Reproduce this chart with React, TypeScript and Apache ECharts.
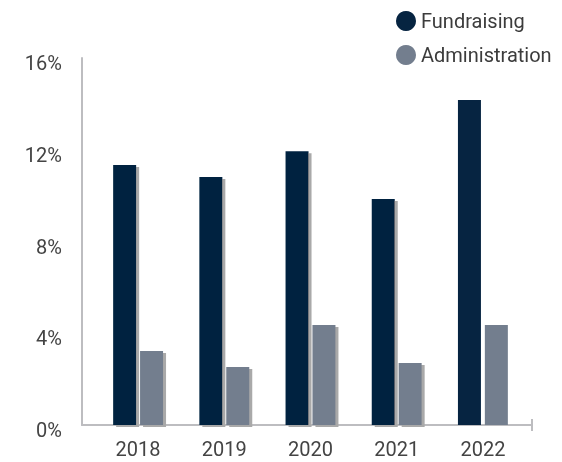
import React, { useEffect, useRef } from "react";
import * as echarts from "echarts";

const years = ["2018", "2019", "2020", "2021", "2022"];
const fundraising = [11.33, 10.81, 11.94, 9.85, 14.17];
const administration = [3.23, 2.53, 4.36, 2.7, 4.36];
const yTicks = [0, 4, 8, 12, 16];

const FONT = "Roboto, 'Noto Sans', sans-serif";

export default function App() {
  const ref = useRef<HTMLDivElement>(null);
  useEffect(() => {
    if (!ref.current) return;
    const chart = echarts.init(ref.current, undefined, { renderer: "svg" });
    const shadow = {
      shadowColor: "#a9a9a9",
      shadowOffsetX: 3,
      shadowOffsetY: 2,
      shadowBlur: 0,
    };
    const last = years.length - 1;
    chart.setOption({
      animation: false,
      legend: {
        orient: "vertical",
        left: 391,
        top: 6,
        itemGap: 14,
        icon: "circle",
        itemWidth: 20,
        itemHeight: 20,
        textStyle: { fontFamily: FONT, fontSize: 20, color: "#3c3c3c" },
        data: ["Fundraising", "Administration"],
      },
      grid: [
        { left: 82, right: 30, top: 58, bottom: 37 },
        { left: 95, width: 431, top: 58, bottom: 37 },
      ],
      xAxis: [
        {
          gridIndex: 0,
          type: "category",
          data: [""],
          axisLine: { show: true, lineStyle: { color: "#bdbdc0", width: 2 } },
          axisTick: { show: false },
          axisLabel: { show: false },
        },
        {
          gridIndex: 1,
          type: "category",
          data: years,
          axisLine: { show: false },
          axisTick: { show: false },
          axisLabel: { fontFamily: FONT, fontSize: 20, color: "#444", margin: 14, lineHeight: 20 },
        },
      ],
      yAxis: [
        {
          gridIndex: 0,
          type: "value",
          min: yTicks[0],
          max: yTicks[yTicks.length - 1],
          interval: 4,
          axisLine: { show: true, lineStyle: { color: "#bdbdc0", width: 2 } },
          axisTick: { show: false },
          splitLine: { show: false },
          axisLabel: {
            fontFamily: FONT,
            fontSize: 20,
            color: "#444",
            margin: 20,
            verticalAlign: "top",
            lineHeight: 10,
            formatter: (v: number) => v + "%",
          },
        },
        {
          gridIndex: 1,
          type: "value",
          min: yTicks[0],
          max: yTicks[yTicks.length - 1],
          interval: 4,
          show: false,
        },
      ],
      graphic: [
        {
          type: "line",
          shape: { x1: 532, y1: 419, x2: 532, y2: 431 },
          style: { stroke: "#bdbdc0", lineWidth: 2 },
        },
      ],
      series: [
        {
          name: "Fundraising",
          type: "bar",
          xAxisIndex: 1,
          yAxisIndex: 1,
          barWidth: 23,
          barGap: "17%",
          itemStyle: { color: "#062441" },
          data: fundraising.map((v, i) => ({
            value: v,
            itemStyle: i === last ? { shadowColor: "transparent" } : shadow,
          })),
        },
        {
          name: "Administration",
          type: "bar",
          xAxisIndex: 1,
          yAxisIndex: 1,
          barWidth: 23,
          barGap: "17%",
          itemStyle: { color: "#737e8e" },
          data: administration.map((v, i) => ({
            value: v,
            itemStyle: i === last ? { shadowColor: "transparent" } : shadow,
          })),
        },
      ],
    });
    return () => chart.dispose();
  }, []);
  return (
    <div
      ref={ref}
      style={{ position: "fixed", left: 0, top: 0, width: 562, height: 462 }}
    />
  );
}
